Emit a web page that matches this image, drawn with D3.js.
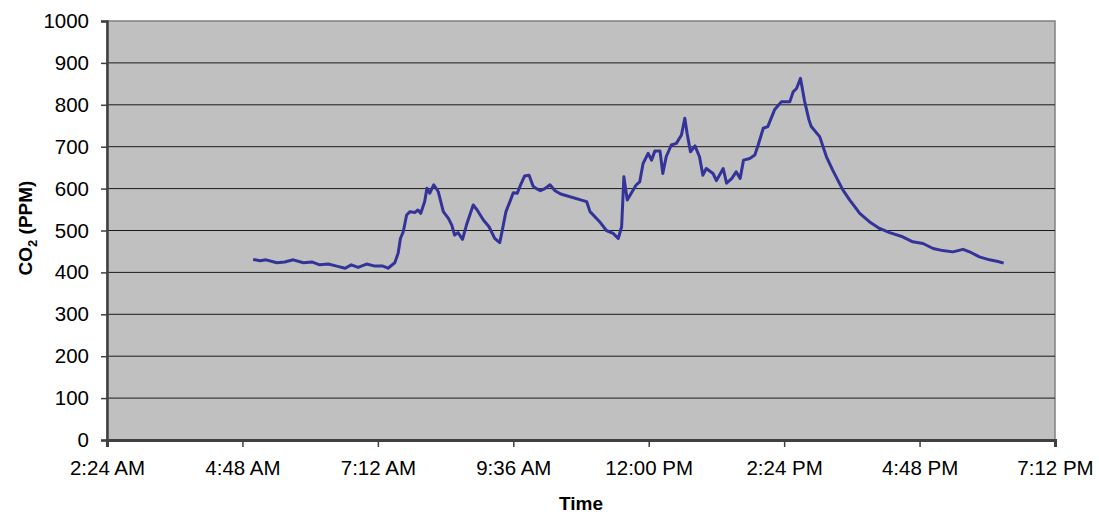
<!DOCTYPE html>
<html><head><meta charset="utf-8">
<script src="https://cdn.jsdelivr.net/npm/d3@7"></script>
<style>body{margin:0;background:#fff;}svg{display:block;font-family:Arial,"Liberation Sans",sans-serif;}</style>
</head><body><div id="chart"></div>
<script>
// time of day in hours (decimal)
const times = [4.99,5.11,5.22,5.41,5.55,5.70,5.88,6.03,6.17,6.32,6.47,6.62,6.73,6.85,7.00,7.15,7.29,7.38,7.50,7.56,7.60,7.65,7.71,7.77,7.86,7.91,7.96,8.03,8.07,8.12,8.19,8.27,8.36,8.45,8.51,8.56,8.62,8.70,8.77,8.89,8.96,9.07,9.17,9.27,9.36,9.40,9.47,9.54,9.60,9.67,9.73,9.80,9.88,9.95,10.01,10.08,10.16,10.25,10.34,10.44,10.90,10.96,11.13,11.25,11.37,11.46,11.52,11.56,11.62,11.69,11.78,11.84,11.90,11.99,12.05,12.11,12.20,12.25,12.31,12.40,12.49,12.58,12.64,12.68,12.74,12.82,12.90,12.96,13.02,13.14,13.20,13.32,13.38,13.47,13.55,13.62,13.68,13.79,13.88,13.94,14.03,14.11,14.23,14.35,14.50,14.56,14.62,14.69,14.76,14.84,14.88,15.03,15.15,15.26,15.44,15.56,15.74,15.91,16.09,16.27,16.50,16.68,16.86,17.04,17.21,17.39,17.57,17.72,17.86,18.04,18.19,18.29];
const co2 = [431,428,430,423,425,430,423,425,418,420,415,410,418,412,420,415,415,410,423,446,481,497,537,545,543,549,541,569,601,589,609,593,545,529,513,489,495,479,513,561,549,525,509,481,471,497,545,569,590,589,609,630,632,606,600,595,600,609,595,587,569,545,521,500,493,481,509,628,573,589,609,616,660,684,668,690,690,636,676,704,708,728,768,732,688,702,676,632,648,636,619,648,613,624,640,624,668,672,680,704,744,748,788,807,807,831,839,863,810,764,748,724,676,644,597,573,541,521,505,495,485,473,469,457,452,449,455,447,437,430,426,422];
const xTickHours = [2.4,4.8,7.2,9.6,12.0,14.4,16.8,19.2];
const xTickLabels = ["2:24 AM","4:48 AM","7:12 AM","9:36 AM","12:00 PM","2:24 PM","4:48 PM","7:12 PM"];
const yTicks = [0,100,200,300,400,500,600,700,800,900,1000];

const W = 1099, H = 516;
const m = {l:107, r:1055, t:21, b:440};
const svg = d3.select("#chart").append("svg").attr("width",W).attr("height",H);
const x = d3.scaleLinear().domain([2.4,19.2]).range([m.l,m.r]);
const y = d3.scaleLinear().domain([0,1000]).range([m.b,m.t]);

svg.append("rect").attr("x",m.l).attr("y",m.t).attr("width",m.r-m.l).attr("height",m.b-m.t)
  .attr("fill","#c0c0c0").attr("stroke","#808080").attr("stroke-width",1.5);

// gridlines
svg.append("g").selectAll("line").data(yTicks.filter(d=>d>0 && d<1000)).join("line")
  .attr("x1",m.l).attr("x2",m.r).attr("y1",d=>y(d)).attr("y2",d=>y(d))
  .attr("stroke","#1a1a1a").attr("stroke-width",1);

// y axis
const ya = svg.append("g").attr("transform",`translate(${m.l},0)`)
  .call(d3.axisLeft(y).tickValues(yTicks).tickFormat(d3.format("d")).tickSize(6).tickPadding(12));
ya.select(".domain").attr("stroke","#404040").attr("stroke-width",2.5);
ya.selectAll(".tick line").attr("stroke","#404040").attr("stroke-width",1.5);
ya.selectAll("text").attr("font-size","20.5px").attr("fill","#000").attr("font-family","Arial, 'Liberation Sans', sans-serif");

// x axis
const xa = svg.append("g").attr("transform",`translate(0,${m.b})`)
  .call(d3.axisBottom(x).tickValues(xTickHours).tickFormat((d,i)=>xTickLabels[i]).tickSize(7).tickPadding(13));
xa.select(".domain").attr("stroke","#404040").attr("stroke-width",3);
xa.selectAll(".tick line").attr("stroke","#404040").attr("stroke-width",1.5);
xa.selectAll("text").attr("font-size","20.5px").attr("fill","#000").attr("font-family","Arial, 'Liberation Sans', sans-serif");

// line
const line = d3.line().x((d,i)=>x(times[i])).y(d=>y(d));
svg.append("path").datum(co2).attr("d",line).attr("fill","none")
  .attr("stroke","#333399").attr("stroke-width",3).attr("stroke-linejoin","round");

// axis titles
svg.append("text").attr("x",581).attr("y",510).attr("text-anchor","middle")
  .attr("font-size","19px").attr("font-weight","bold").text("Time");
const yt = svg.append("text").attr("transform","translate(32,228) rotate(-90)").attr("text-anchor","middle")
  .attr("font-size","19px").attr("font-weight","bold");
yt.append("tspan").text("CO");
yt.append("tspan").attr("font-size","13px").attr("dy","5").text("2");
yt.append("tspan").attr("dy","-5").text(" (PPM)");
</script></body></html>
